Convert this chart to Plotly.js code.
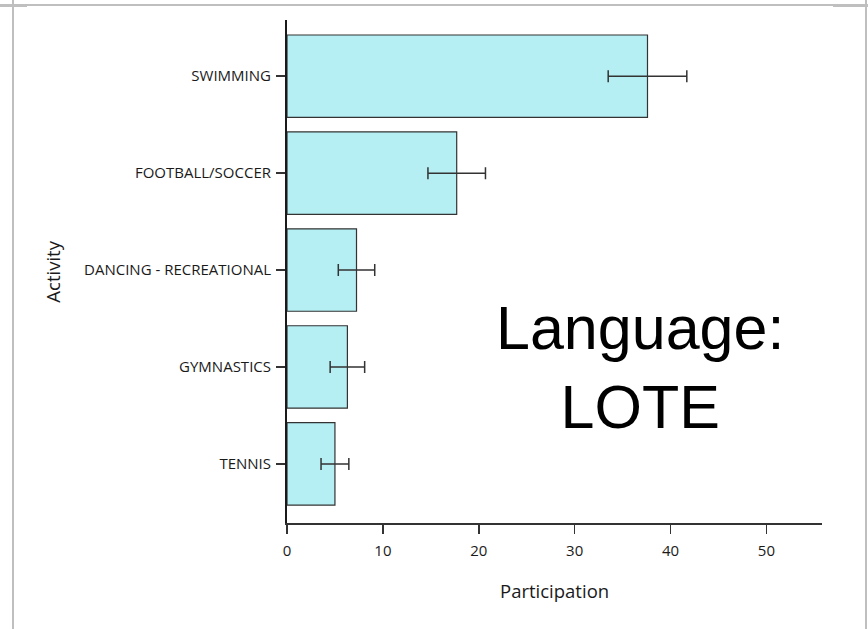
<!DOCTYPE html>
<html>
<head>
<meta charset="utf-8">
<script src="https://cdn.plot.ly/plotly-3.0.1.min.js"></script>
<style>
  html, body { margin: 0; padding: 0; background: #ffffff; }
  #wrap { position: relative; width: 868px; height: 629px; overflow: hidden; }
  #chart { position: absolute; left: 0; top: 0; width: 868px; height: 629px; }
  .frame { position: absolute; background: #bfbfbf; }
</style>
</head>
<body>
<div id="wrap">
  <div id="chart"></div>
  <div class="frame" style="left:0; top:4px; width:868px; height:2px;"></div>
  <div class="frame" style="left:0; top:5px; width:27px; height:2px;"></div>
  <div class="frame" style="left:833px; top:5px; width:35px; height:2px;"></div>
  <div class="frame" style="left:12px; top:0; width:2px; height:629px;"></div>
  <div class="frame" style="left:865px; top:0; width:2px; height:629px;"></div>
</div>
<script>
// Data
const activities = ["SWIMMING", "FOOTBALL/SOCCER", "DANCING - RECREATIONAL", "GYMNASTICS", "TENNIS"];
const participation = [37.6, 17.7, 7.25, 6.3, 5.0];
const errors = [4.1, 3.0, 1.9, 1.8, 1.45];
const xTicks = [0, 10, 20, 30, 40, 50];
const xTitle = "Participation";
const yTitle = "Activity";
const noteText = "Language:<br>LOTE";

const FONT = "Open Sans, sans-serif";
const INK = "#1a1a1a";

const trace = {
  type: "bar",
  orientation: "h",
  x: participation,
  y: activities,
  marker: { color: "#b5eff3", line: { color: "#333333", width: 1.2 } },
  error_x: { type: "data", array: errors, visible: true, color: "#333333", thickness: 1.5, width: 6 },
  hoverinfo: "none"
};

const layout = {
  width: 868,
  height: 629,
  margin: { l: 287, r: 46, t: 20, b: 106 },
  paper_bgcolor: "rgba(0,0,0,0)",
  plot_bgcolor: "rgba(0,0,0,0)",
  bargap: 0.15,
  showlegend: false,
  font: { family: FONT, color: INK },
  xaxis: {
    range: [0, 55.8],
    tickvals: xTicks,
    ticktext: xTicks.map(String),
    showgrid: false,
    zeroline: false,
    showline: true,
    linecolor: "#333333",
    linewidth: 1.5,
    ticks: "outside",
    ticklen: 9,
    tickwidth: 1.5,
    tickcolor: "#333333",
    ticklabelstandoff: 4,
    tickfont: { size: 15, family: FONT, color: INK }
  },
  yaxis: {
    type: "category",
    categoryorder: "array",
    categoryarray: activities,
    range: [4.61, -0.58],
    showgrid: false,
    zeroline: false,
    showline: true,
    linecolor: "#1a1a1a",
    linewidth: 2,
    ticks: "outside",
    ticklen: 9,
    tickwidth: 1.5,
    tickcolor: "#333333",
    ticklabelstandoff: 2,
    tickfont: { size: 15, family: FONT, color: INK }
  },
  annotations: [
    {
      text: xTitle,
      xref: "paper", yref: "paper",
      x: 0.5, y: -0.135,
      xanchor: "center", yanchor: "middle",
      showarrow: false,
      font: { size: 18.5, family: FONT, color: INK }
    },
    {
      text: yTitle,
      xref: "paper", yref: "paper",
      x: -0.439, y: 0.5,
      xanchor: "center", yanchor: "middle",
      textangle: -90,
      showarrow: false,
      font: { size: 18.5, family: FONT, color: INK }
    },
    {
      text: noteText,
      xref: "paper", yref: "paper",
      x: 0.66, y: 0.309,
      xanchor: "center", yanchor: "middle",
      showarrow: false,
      align: "center",
      font: { family: "Liberation Sans, Arial, sans-serif", size: 61, color: "#000000" }
    }
  ]
};

Plotly.newPlot("chart", [trace], layout, { staticPlot: true, displayModeBar: false });
</script>
</body>
</html>
